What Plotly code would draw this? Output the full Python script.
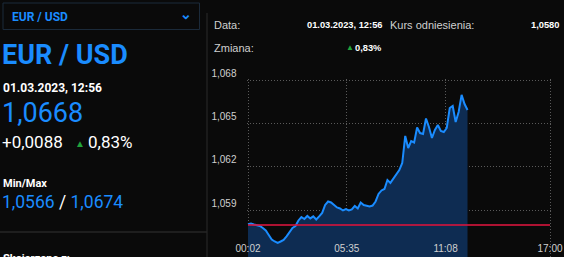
import pandas as pd
import plotly.graph_objects as go

# ---------------- data ----------------
pair = "EUR / USD"
timestamp = "01.03.2023, 12:56"
last_price = "1,0668"
change_abs = "+0,0088"
change_pct = "0,83%"
min_val = "1,0566"
max_val = "1,0674"
ref_price = 1.0580
ref_price_label = "1,0580"

prices = [
    1.05805, 1.05810, 1.05803, 1.05797, 1.05793, 1.05779, 1.05762, 1.05731, 1.05700, 1.05686,
    1.05676, 1.05686, 1.05697, 1.05721, 1.05748, 1.05779, 1.05793, 1.05831, 1.05855, 1.05841,
    1.05862, 1.05845, 1.05859, 1.05838, 1.05859, 1.05883, 1.05938, 1.05962, 1.05955, 1.05941,
    1.05921, 1.05914, 1.05900, 1.05910, 1.05900, 1.05907, 1.05931, 1.05914, 1.05955, 1.05938,
    1.05934, 1.05928, 1.05934, 1.05962, 1.06014, 1.06038, 1.06048, 1.06110, 1.06090, 1.06121,
    1.06155, 1.06179, 1.06228, 1.06414, 1.06331, 1.06379, 1.06369, 1.06472, 1.06434, 1.06428,
    1.06534, 1.06476, 1.06400, 1.06455, 1.06490, 1.06448, 1.06441, 1.06469, 1.06607, 1.06621,
    1.06510, 1.06579, 1.06697, 1.06634, 1.06593,
]
times = pd.date_range("2023-03-01 00:02", periods=len(prices), freq="10min")

x_start = "2023-03-01 00:02"
x_end = "2023-03-01 17:00"
x_tick_vals = ["2023-03-01 00:02", "2023-03-01 05:35", "2023-03-01 11:08", "2023-03-01 17:00"]
x_tick_text = ["00:02", "05:35", "11:08", "17:00"]
y_tick_vals = [1.059, 1.062, 1.065, 1.068]
y_tick_text = ["1,059", "1,062", "1,065", "1,068"]
# ranges padded 1.5 px beyond the first/last grid lines so edge grid lines are drawn
x_range = ["2023-02-28 23:56:57", "2023-03-01 17:05:03"]
y_range = [1.05579, 1.0681035]

# ---------------- figure ----------------
W, H = 564, 257
BG = "#0a0a0a"
BLUE = "#1a8cff"
GREEN = "#22a33a"


def X(px):
    return px / W


def Y(py):
    return 1 - py / H


fig = go.Figure()
fig.add_trace(go.Scatter(
    x=times, y=prices, mode="lines",
    line=dict(color=BLUE, width=2),
    fill="tozeroy", fillcolor="#0e2c52",
    hoverinfo="skip", showlegend=False,
))
fig.add_trace(go.Scatter(
    x=[x_start, x_end], y=[ref_price, ref_price], mode="lines",
    line=dict(color="rgba(215,20,60,0.8)", width=2),
    hoverinfo="skip", showlegend=False,
))

fig.update_layout(
    width=W, height=H,
    margin=dict(l=0, r=0, t=0, b=0, autoexpand=False),
    paper_bgcolor=BG, plot_bgcolor=BG,
    showlegend=False,
    xaxis=dict(
        domain=[X(246.5), X(551.5)],
        range=x_range,
        automargin=False,
        tickvals=x_tick_vals, ticktext=x_tick_text,
        ticklabelposition="inside", ticklabeloverflow="allow",
        tickfont=dict(family="Liberation Sans", size=10, color="#d0d0d0"),
        showgrid=True, gridcolor="#5a5a5a", griddash="1px,2px", gridwidth=1,
        zeroline=False, showline=False, ticks="",
    ),
    yaxis=dict(
        domain=[0, Y(78.5)],
        range=y_range,
        automargin=False,
        tickvals=y_tick_vals, ticktext=y_tick_text,
        ticklabelposition="outside top",
        ticklabelstandoff=9,
        tickfont=dict(family="Liberation Sans", size=10, color="#d0d0d0"),
        showgrid=True, gridcolor="#5a5a5a", griddash="1px,2px", gridwidth=1,
        zeroline=False, showline=False, ticks="",
    ),
)

shapes = [
    # dropdown box
    dict(type="rect", xref="paper", yref="paper", x0=X(3), x1=X(199.5), y0=Y(3), y1=Y(29.5),
         line=dict(color="#1b2a3a", width=1), fillcolor=BG, layer="below"),
    # vertical separator
    dict(type="line", xref="paper", yref="paper", x0=X(207), x1=X(207), y0=Y(13), y1=0,
         line=dict(color="#2a2a2a", width=1)),
    # left horizontal separator
    dict(type="line", xref="paper", yref="paper", x0=0, x1=X(207), y0=Y(232), y1=Y(232),
         line=dict(color="#262626", width=1.5)),
]
fig.update_layout(shapes=shapes)

ROBOTO = "Roboto"
ARIAL = "Liberation Sans"


def ann(text, px, py, size, color, family=ROBOTO, xanchor="left", yanchor="middle"):
    fig.add_annotation(
        text=text, x=X(px), y=Y(py), xref="paper", yref="paper",
        xanchor=xanchor, yanchor=yanchor, showarrow=False,
        font=dict(family=family, size=size, color=color), borderpad=0,
    )


# left panel
ann("<b>" + pair + "</b>", 11, 16.5, 12, BLUE)
ann("<b>⌄</b>", 186, 13.5, 14, BLUE, xanchor="center")
ann("<b>" + pair + "</b>", 1, 55, 27, BLUE)
ann("<b>" + timestamp + "</b>", 2, 88, 12, "#ffffff")
ann(last_price, 1, 113, 27, BLUE)
ann(change_abs, 1, 141.5, 17, "#ffffff")
ann("▲", 80, 143, 10, GREEN, xanchor="center")
ann(change_pct, 87, 141.5, 17, "#ffffff")
ann("<b>Min/Max</b>", 2, 183, 11, "#ffffff")
ann(min_val + "<span style='color:#ffffff'> / </span>" + max_val, 1, 202, 17.5, BLUE)
ann("<b>Skojarzone z:</b>", 2, 251, 11, "#ffffff", yanchor="top")

# right header
ann("Data:", 213, 24.5, 11, "#cfcfcf", family=ARIAL)
ann("<b>" + timestamp + "</b>", 383, 24.5, 9.3, "#ffffff", family=ARIAL, xanchor="right")
ann("Kurs odniesienia:", 389, 24.5, 11, "#cfcfcf", family=ARIAL)
ann("<b>" + ref_price_label + "</b>", 560, 24.5, 9.3, "#ffffff", family=ARIAL, xanchor="right")
ann("Zmiana:", 213, 47.5, 11, "#cfcfcf", family=ARIAL)
ann("▲", 349.5, 47.5, 8, GREEN, xanchor="center")
ann("<b>" + change_pct + "</b>", 383, 47.5, 9.3, "#ffffff", family=ARIAL, xanchor="right")

fig.write_html("out.html")
